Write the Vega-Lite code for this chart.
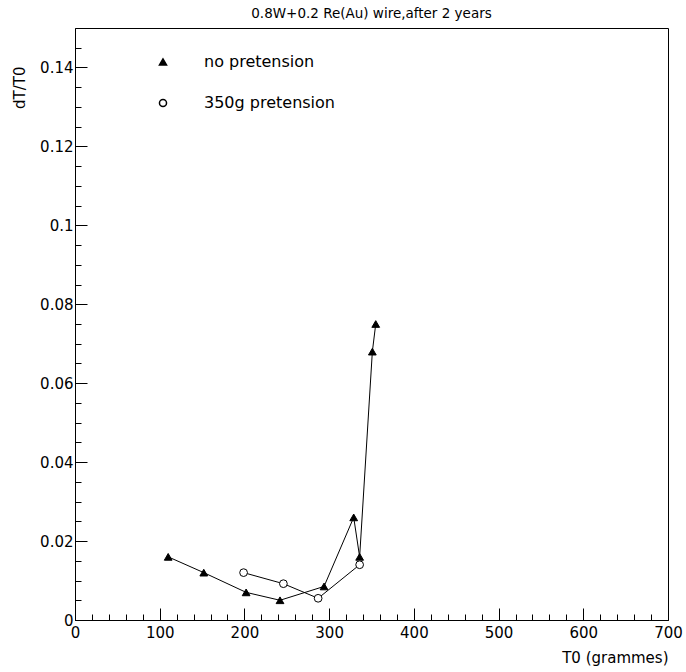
{
  "$schema": "https://vega.github.io/schema/vega-lite/v6.json",
  "autosize": "none",
  "width": 593,
  "height": 592,
  "padding": {"left": 75, "top": 28, "right": 18, "bottom": 52},
  "background": "white",
  "config": {
    "font": "DejaVu Sans",
    "view": {"stroke": "black", "strokeWidth": 1},
    "axis": {"grid": false, "domainColor": "black", "tickColor": "black", "labelColor": "black", "titleColor": "black", "labelFont": "DejaVu Sans", "titleFont": "DejaVu Sans", "labelFontSize": 15, "titleFontSize": 15, "titleFontWeight": "normal", "labelOverlap": false, "labelFlush": false}
  },
  "title": {"text": "0.8W+0.2 Re(Au) wire,after 2 years", "anchor": "middle", "offset": 8, "fontSize": 13.5, "fontWeight": "normal", "font": "DejaVu Sans", "color": "black"},
  "data": {"values": [
    {"T0": 110, "ratio": 0.016, "series": "no pretension"},
    {"T0": 152, "ratio": 0.012, "series": "no pretension"},
    {"T0": 202, "ratio": 0.007, "series": "no pretension"},
    {"T0": 242, "ratio": 0.005, "series": "no pretension"},
    {"T0": 294, "ratio": 0.0085, "series": "no pretension"},
    {"T0": 329, "ratio": 0.026, "series": "no pretension"},
    {"T0": 336, "ratio": 0.016, "series": "no pretension"},
    {"T0": 351, "ratio": 0.068, "series": "no pretension"},
    {"T0": 355, "ratio": 0.075, "series": "no pretension"},
    {"T0": 199, "ratio": 0.012, "series": "350g pretension"},
    {"T0": 246, "ratio": 0.0092, "series": "350g pretension"},
    {"T0": 287, "ratio": 0.0055, "series": "350g pretension"},
    {"T0": 336, "ratio": 0.014, "series": "350g pretension"}
  ]},
  "encoding": {
    "x": {"field": "T0", "type": "quantitative", "scale": {"domain": [0, 700], "nice": false, "zero": false},
      "axis": {"title": "T0 (grammes)", "titleAnchor": "end", "titlePadding": 4,
        "values": [0,20,40,60,80,100,120,140,160,180,200,220,240,260,280,300,320,340,360,380,400,420,440,460,480,500,520,540,560,580,600,620,640,660,680,700],
        "labelExpr": "datum.value % 100 == 0 ? datum.label : ''",
        "tickSize": {"condition": {"test": "datum.value % 100 == 0", "value": -12}, "value": -6},
        "labelPadding": 17}},
    "y": {"field": "ratio", "type": "quantitative", "scale": {"domain": [0, 0.15], "nice": false},
      "axis": {"title": "dT/T0", "titleAngle": -90, "titleAlign": "right", "titleBaseline": "alphabetic", "titleX": -51, "titleY": 38,
        "values": [0,0.005,0.01,0.015,0.02,0.025,0.03,0.035,0.04,0.045,0.05,0.055,0.06,0.065,0.07,0.075,0.08,0.085,0.09,0.095,0.1,0.105,0.11,0.115,0.12,0.125,0.13,0.135,0.14,0.145],
        "labelExpr": "round(datum.value*1000) % 20 == 0 ? format(datum.value, '~g') : ''",
        "tickSize": {"condition": {"test": "round(datum.value*1000) % 20 == 0", "value": -12}, "value": -6},
        "labelPadding": 14}}
  },
  "layer": [
    {"mark": {"type": "line", "color": "black", "strokeWidth": 1},
     "encoding": {"detail": {"field": "series"}}},
    {"mark": {"type": "point", "filled": true, "stroke": "black", "strokeWidth": 1, "size": 60, "opacity": 1},
     "encoding": {
       "shape": {"field": "series", "type": "nominal", "scale": {"domain": ["no pretension", "350g pretension"], "range": ["triangle-up", "circle"]},
         "legend": {"title": null, "orient": "none", "legendX": 80, "legendY": 26, "labelFontSize": 16, "labelFont": "DejaVu Sans", "labelColor": "black", "labelOffset": 33, "rowPadding": 25, "symbolSize": 50,
           "encode": {"symbols": {"update": {"stroke": {"value": "black"}, "strokeWidth": {"value": 1}}}}}},
       "fill": {"field": "series", "type": "nominal", "scale": {"domain": ["no pretension", "350g pretension"], "range": ["black", "white"]},
         "legend": {"title": null, "orient": "none", "legendX": 80, "legendY": 26, "labelFontSize": 16, "labelFont": "DejaVu Sans", "labelColor": "black", "labelOffset": 33, "rowPadding": 25, "symbolSize": 50,
           "encode": {"symbols": {"update": {"stroke": {"value": "black"}, "strokeWidth": {"value": 1}}}}}}
     }}
  ]
}
